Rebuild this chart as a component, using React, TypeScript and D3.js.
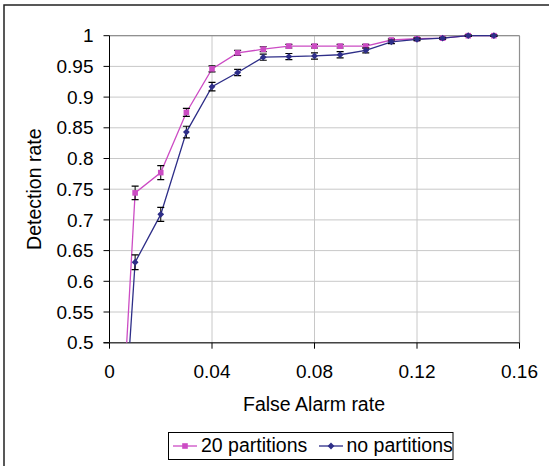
import React from "react";
import * as d3 from "d3";

const falseAlarm = [0, 0.01, 0.02, 0.03, 0.04, 0.05, 0.06, 0.07, 0.08, 0.09, 0.1, 0.11, 0.12, 0.13, 0.14, 0.15];
const partitions20 = [0, 0.744, 0.777, 0.875, 0.946, 0.972, 0.978, 0.983, 0.983, 0.983, 0.983, 0.993, 0.995, 0.996, 1.0, 1.0];
const partitions20Err = [0, 0.011, 0.0115, 0.0065, 0.005, 0.004, 0.004, 0.003, 0.003, 0.003, 0.003, 0.002, 0.0015, 0.001, 0.001, 0.001];
const noPartitions = [0, 0.631, 0.709, 0.843, 0.917, 0.94, 0.965, 0.966, 0.967, 0.969, 0.976, 0.99, 0.994, 0.996, 1.0, 1.0];
const noPartitionsErr = [0, 0.012, 0.0115, 0.0095, 0.007, 0.005, 0.005, 0.005, 0.005, 0.005, 0.004, 0.003, 0.002, 0.0015, 0.001, 0.001];
const xTicks = [0, 0.04, 0.08, 0.12, 0.16];
const yTicks = [0.5, 0.55, 0.6, 0.65, 0.7, 0.75, 0.8, 0.85, 0.9, 0.95, 1];
const seriesNames = ["20 partitions", "no partitions"];

const PINK = "#CC4CC4";
const BLUE = "#2E2E88";
const FONT = "'Liberation Sans', Arial, sans-serif";

export default function App() {
  const W = 549, H = 466;
  const left = 109.5, right = 519.5, top = 35.7, bottom = 342.7;
  const x = d3.scaleLinear().domain([0, 0.16]).range([left, right]);
  const y = d3.scaleLinear().domain([0.5, 1]).range([bottom, top]);
  const line = d3.line<number>().x((_, i) => x(falseAlarm[i])).y((d) => y(d));

  const series = [
    { name: seriesNames[0], vals: partitions20, err: partitions20Err, color: PINK, marker: "square" },
    { name: seriesNames[1], vals: noPartitions, err: noPartitionsErr, color: BLUE, marker: "diamond" },
  ];

  const marker = (kind: string, cx: number, cy: number, color: string, key: any) =>
    kind === "square" ? (
      <rect key={key} x={cx - 2.8} y={cy - 2.8} width={5.6} height={5.6} fill={color} />
    ) : (
      <path key={key} d={`M${cx},${cy - 3.4}L${cx + 3.4},${cy}L${cx},${cy + 3.4}L${cx - 3.4},${cy}Z`} fill={color} />
    );

  return (
    <div style={{ position: "absolute", left: 0, top: 0 }}>
      <svg width={W} height={H} style={{ display: "block", fontFamily: FONT }}>
        <rect x={0} y={0} width={W} height={H} fill="#fff" />
        <rect x={4} y={5} width={600} height={600} fill="none" stroke="#222" strokeWidth={1.5} />
        <defs>
          <clipPath id="plotclip">
            <rect x={left} y={top - 6} width={right - left + 6} height={bottom - top + 6} />
          </clipPath>
        </defs>
        {/* grid */}
        {yTicks.map((t) => (
          <line key={"gy" + t} x1={left} x2={right} y1={y(t)} y2={y(t)} stroke="#c8c8c8" strokeWidth={1} />
        ))}
        {xTicks.map((t) => (
          <line key={"gx" + t} x1={x(t)} x2={x(t)} y1={top} y2={bottom} stroke="#c8c8c8" strokeWidth={1} />
        ))}
        {/* plot border */}
        <line x1={left} x2={right} y1={top} y2={top} stroke="#909090" strokeWidth={1.2} />
        <line x1={right} x2={right} y1={top} y2={bottom} stroke="#909090" strokeWidth={1.2} />
        {/* axes */}
        <line x1={left} x2={left} y1={top} y2={bottom} stroke="#000" strokeWidth={1} />
        <line x1={left - 6} x2={right} y1={bottom} y2={bottom} stroke="#444" strokeWidth={1.5} />
        {yTicks.map((t) => (
          <g key={"yt" + t}>
            <line x1={left - 6} x2={left} y1={y(t)} y2={y(t)} stroke="#000" />
            <text x={93.5} y={y(t)} dy="0.35em" textAnchor="end" fontSize={19}>
              {t === 1 ? "1" : String(t)}
            </text>
          </g>
        ))}
        {xTicks.map((t) => (
          <g key={"xt" + t}>
            <line x1={x(t)} x2={x(t)} y1={bottom} y2={bottom + 6} stroke="#000" />
            <text x={x(t)} y={378} textAnchor="middle" fontSize={19}>
              {t === 0 ? "0" : String(t)}
            </text>
          </g>
        ))}
        <text x={314} y={411} textAnchor="middle" fontSize={19.5}>False Alarm rate</text>
        <text transform={`translate(41,${(top + bottom) / 2}) rotate(-90)`} textAnchor="middle" fontSize={19.5}>
          Detection rate
        </text>
        {/* series */}
        <g clipPath="url(#plotclip)">
          {series.map((s) => (
            <g key={s.name}>
              <path d={line(s.vals) || ""} fill="none" stroke={s.color} strokeWidth={1.3} />
              {s.vals.map((v, i) =>
                i === 0 ? null : (
                  <g key={i}>
                    <line x1={x(falseAlarm[i])} x2={x(falseAlarm[i])} y1={y(v - s.err[i])} y2={y(v + s.err[i])} stroke="#000" strokeWidth={1} />
                    <line x1={x(falseAlarm[i]) - 3.5} x2={x(falseAlarm[i]) + 3.5} y1={y(v - s.err[i])} y2={y(v - s.err[i])} stroke="#000" strokeWidth={1.2} />
                    <line x1={x(falseAlarm[i]) - 3.5} x2={x(falseAlarm[i]) + 3.5} y1={y(v + s.err[i])} y2={y(v + s.err[i])} stroke="#000" strokeWidth={1.2} />
                  </g>
                )
              )}
              {s.vals.map((v, i) => (i === 0 ? null : marker(s.marker, x(falseAlarm[i]), y(v), s.color, i)))}
            </g>
          ))}
        </g>
        {/* legend */}
        <rect x={168.5} y={432.5} width={284.5} height={27} fill="#fff" stroke="#000" strokeWidth={1} />
        <line x1={173} x2={197} y1={446} y2={446} stroke={PINK} strokeWidth={1.3} />
        {marker("square", 185, 446, PINK, "lm1")}
        <text x={201} y={452} fontSize={19.5}>{seriesNames[0]}</text>
        <line x1={319} x2={343} y1={446} y2={446} stroke={BLUE} strokeWidth={1.3} />
        {marker("diamond", 331, 446, BLUE, "lm2")}
        <text x={346.5} y={452} fontSize={19.5}>{seriesNames[1]}</text>
      </svg>
    </div>
  );
}
